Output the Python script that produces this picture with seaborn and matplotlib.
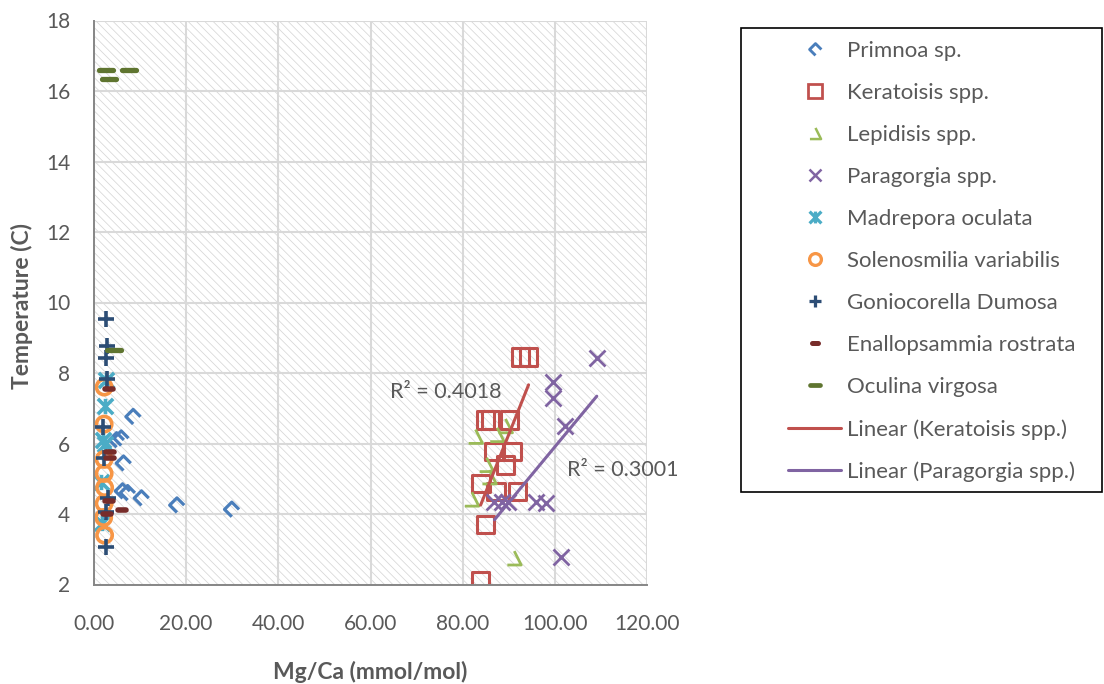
import matplotlib
matplotlib.use("Agg")
import matplotlib.pyplot as plt
from matplotlib.path import Path
from matplotlib.markers import MarkerStyle
from matplotlib.lines import Line2D
from matplotlib.patches import Rectangle
import seaborn as sns

# ---- data: Mg/Ca (mmol/mol) vs temperature (C) by coral taxon ----
primnoa_mgca = [8.5, 4.9, 5.9, 6.4, 6.2, 7.3, 10.3, 18.0, 29.9]
primnoa_temp = [6.76, 6.10, 6.15, 5.44, 4.65, 4.60, 4.45, 4.25, 4.13]

keratoisis_mgca = [83.9, 85.0, 84.0, 87.2, 91.9, 89.3, 86.8, 90.8, 85.0, 86.1, 90.1, 92.6, 94.3]
keratoisis_temp = [2.10, 3.70, 4.87, 4.63, 4.63, 5.39, 5.77, 5.77, 6.67, 6.67, 6.67, 8.45, 8.45]

lepidisis_mgca = [82.8, 87.5, 89.3, 85.2, 85.8, 82.0, 91.2]
lepidisis_temp = [6.20, 6.25, 6.50, 5.40, 5.05, 4.42, 2.75]

paragorgia_mgca = [109.1, 99.5, 99.5, 102.2, 86.9, 88.5, 89.8, 95.9, 98.0, 101.4]
paragorgia_temp = [8.42, 7.75, 7.28, 6.50, 4.35, 4.35, 4.35, 4.35, 4.30, 2.79]

madrepora_mgca = [2.6, 2.4, 2.0, 2.4, 1.6, 1.8]
madrepora_temp = [7.80, 7.05, 6.10, 6.00, 4.90, 3.75]

solenosmilia_mgca = [2.2, 2.2, 2.2, 2.2, 2.3, 2.2, 2.1, 2.3]
solenosmilia_temp = [7.60, 6.55, 5.55, 5.15, 4.75, 4.30, 3.90, 3.40]

goniocorella_mgca = [2.5, 2.9, 2.5, 2.8, 2.0, 2.2, 3.0, 2.6, 2.7]
goniocorella_temp = [9.53, 8.77, 8.42, 7.83, 6.48, 5.60, 4.45, 4.05, 3.05]

enallopsammia_mgca = [3.3, 3.5, 3.5, 3.2, 6.0, 2.8]
enallopsammia_temp = [7.55, 5.77, 5.58, 4.38, 4.10, 4.00]

oculina_mgca = [2.5, 7.5, 3.2, 4.4]
oculina_temp = [16.60, 16.60, 16.35, 8.65]

series_names = ["Primnoa sp.", "Keratoisis spp.", "Lepidisis spp.", "Paragorgia spp.",
                "Madrepora oculata", "Solenosmilia variabilis", "Goniocorella Dumosa",
                "Enallopsammia rostrata", "Oculina virgosa"]
fit_labels = ["Linear (Keratoisis spp.)", "Linear (Paragorgia spp.)"]
r2_texts = ["R\u00b2 = 0.4018", "R\u00b2 = 0.3001"]
x_ticks = [0, 20, 40, 60, 80, 100, 120]
y_ticks = [2, 4, 6, 8, 10, 12, 14, 16, 18]

# ---- style ----
sns.set_style("white")
plt.rcParams["font.family"] = ["Lato", "DejaVu Sans"]
plt.rcParams["hatch.linewidth"] = 0.55
TXT = "#595959"

# ---- marker shapes ----
chevron = Path([(0, -1), (-1, 0), (0, 1), (1, 0)],
               [Path.MOVETO, Path.LINETO, Path.LINETO, Path.LINETO])
open_tri = Path([(-1, -1), (1, -1), (0, 1)],
                [Path.MOVETO, Path.LINETO, Path.LINETO])
star = Path([(-1, -1), (1, 1), (-1, 1), (1, -1), (0, -1), (0, 1)],
            [Path.MOVETO, Path.LINETO, Path.MOVETO, Path.LINETO, Path.MOVETO, Path.LINETO])

# x, y, marker, size(pt), linewidth, color, hollow, legend size
specs = [
    (primnoa_mgca, primnoa_temp, chevron, 10.5, 2.3, "#4A7EBB", True, 8.5),
    (keratoisis_mgca, keratoisis_temp, "s", 12.5, 2.2, "#C0504D", True, 9.5),
    (lepidisis_mgca, lepidisis_temp, open_tri, 10.0, 2.0, "#9BBB59", True, 8.0),
    (paragorgia_mgca, paragorgia_temp, "x", 11.5, 2.0, "#8064A2", False, 9.0),
    (madrepora_mgca, madrepora_temp, star, 11.0, 2.6, "#4BACC6", False, 8.5),
    (solenosmilia_mgca, solenosmilia_temp, "o", 11.0, 2.6, "#F79646", True, 8.5),
    (goniocorella_mgca, goniocorella_temp, "+", 12.0, 2.6, "#2C4D75", False, 9.0),
    (enallopsammia_mgca, enallopsammia_temp, "_", 5.5, 4.0, "#772C2A", False, 4.0),
    (oculina_mgca, oculina_temp, "_", 10.0, 3.8, "#5F7530", False, 7.5),
]

fig = plt.figure(figsize=(11.04, 6.84), dpi=100)
ax = fig.add_axes([94 / 1104, 1 - 584.5 / 684, 553 / 1104, 564 / 684])

# patterned plot area
ax.add_patch(Rectangle((0, 0), 1, 1, transform=ax.transAxes, facecolor="white",
                       edgecolor="#D6D6D6", hatch="\\" * 4, linewidth=0, zorder=0.2))

handles = []
for (xs, ys, mk, size, lw, col, hollow, lsize), name in zip(specs, series_names):
    kw = dict(color=col, edgecolor=col, linewidth=lw)
    if hollow:
        kw["facecolor"] = "none"
    sns.scatterplot(x=xs, y=ys, marker=mk, s=size ** 2, ax=ax, legend=False, zorder=1.5, **kw)
    if mk == "_":
        ax.collections[-1].set_capstyle("round")
    style = MarkerStyle(mk, capstyle="round") if mk == "_" else MarkerStyle(mk)
    handles.append(Line2D([], [], linestyle="none", marker=style, markersize=lsize,
                          markeredgewidth=lw * 0.9, markeredgecolor=col,
                          markerfacecolor="none" if hollow else col))

# linear trend lines
sns.regplot(x=keratoisis_mgca, y=keratoisis_temp, scatter=False, ci=None, truncate=True,
            color="#C0504D", line_kws=dict(lw=2.2, zorder=3), ax=ax)
sns.regplot(x=paragorgia_mgca, y=paragorgia_temp, scatter=False, ci=None, truncate=True,
            color="#8064A2", line_kws=dict(lw=2.2, zorder=3), ax=ax)
handles.append(Line2D([], [], color="#C0504D", lw=2.2))
handles.append(Line2D([], [], color="#8064A2", lw=2.2))

ax.text(64.3, 7.46, r2_texts[0], ha="left", va="center", fontsize=15.5, color=TXT)
ax.text(102.6, 5.25, r2_texts[1], ha="left", va="center", fontsize=15.5, color=TXT)

# axes
ax.set_xlim(0, 120)
ax.set_ylim(2, 18)
ax.set_xticks(x_ticks)
ax.set_xticklabels([f"{v:.2f}" for v in x_ticks])
ax.set_yticks(y_ticks)
ax.set_yticklabels([str(v) for v in y_ticks])
ax.tick_params(axis="both", length=0, labelsize=15, labelcolor=TXT)
ax.tick_params(axis="y", pad=17)
ax.tick_params(axis="x", pad=21)
ax.grid(True, color="#D9D9D9", lw=1.5)
ax.set_axisbelow(True)
for side in ("top", "right"):
    ax.spines[side].set_visible(False)
for side in ("left", "bottom"):
    ax.spines[side].set_color("#868686")
    ax.spines[side].set_linewidth(1.4)
    ax.spines[side].set_zorder(4)

ax.set_xlabel("Mg/Ca (mmol/mol)", fontsize=16.5, fontweight="bold", color=TXT)
ax.set_ylabel("Temperature (C)", fontsize=16.5, fontweight="bold", color=TXT)
ax.xaxis.label.set(va="center", ha="center")
ax.yaxis.label.set(va="center", ha="center")
ax.xaxis.set_label_coords((370 - 94) / 553, (584.5 - 672) / 564)
ax.yaxis.set_label_coords((22 - 94) / 553, (584.5 - 306) / 564)

# legend with its own frame
fig.legend(handles, series_names + fit_labels, loc="upper left",
           bbox_to_anchor=(788 / 1104, 1 - 41 / 684), frameon=False, borderpad=0,
           borderaxespad=0, handlelength=2.4, handletextpad=0.25, labelspacing=0.99,
           fontsize=16, labelcolor=TXT)
fig.add_artist(Rectangle((741 / 1104, 1 - 492 / 684), (1102 - 741) / 1104, (492 - 28) / 684,
                         transform=fig.transFigure, fill=False, edgecolor="black", lw=1.2))

fig.savefig("out.png", dpi=100)
